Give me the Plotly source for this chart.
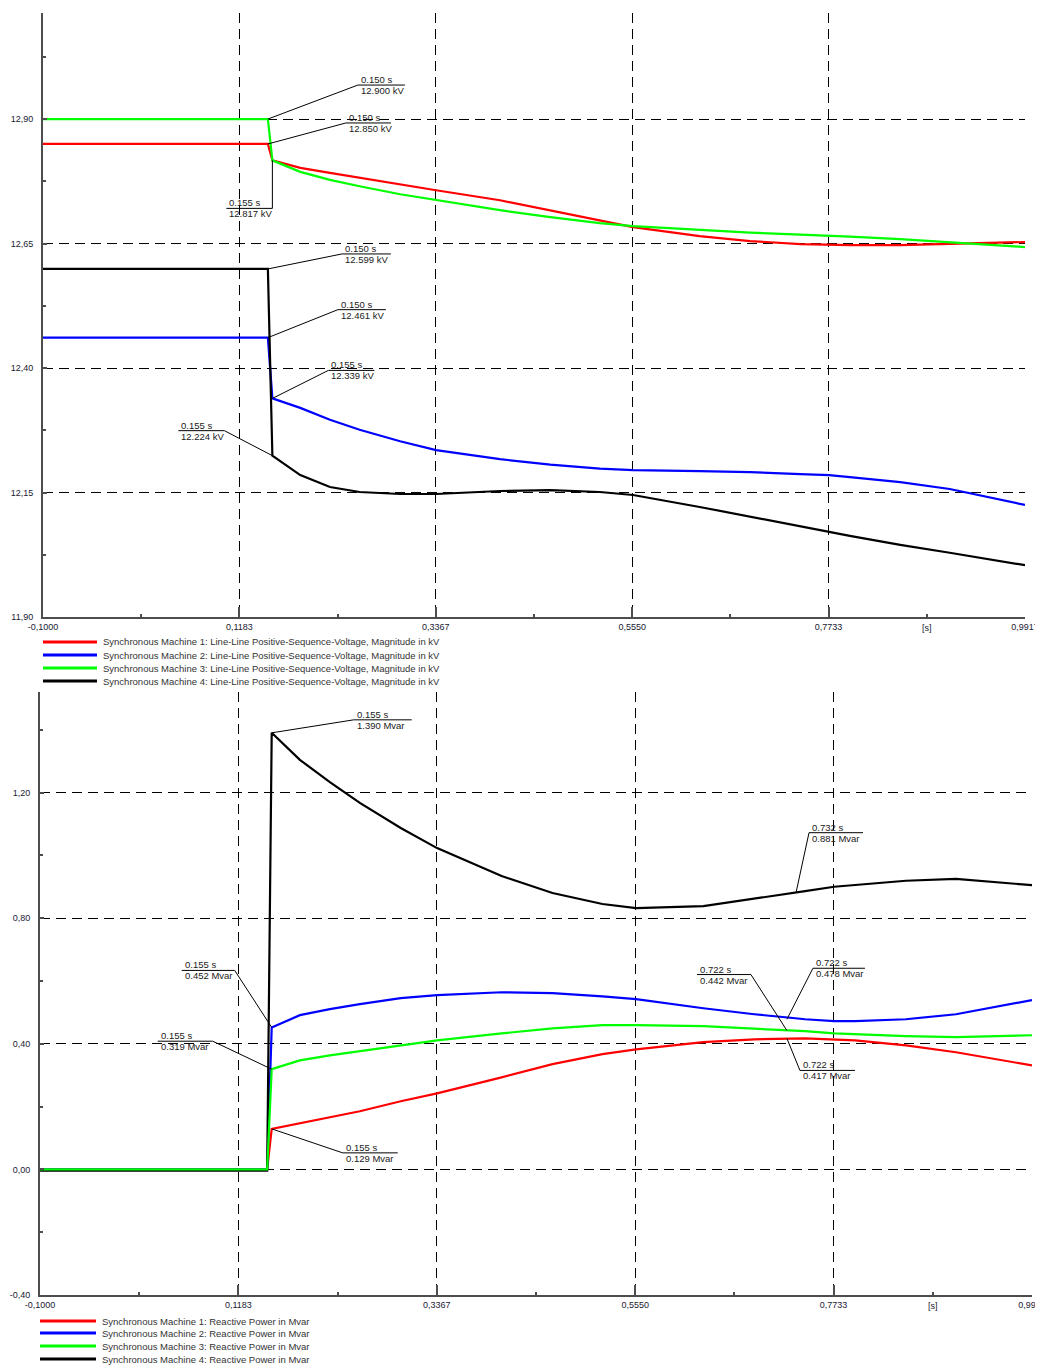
import plotly.graph_objects as go

# page size and the 8px page margin the browser puts round the figure
PAGE_W, PAGE_H = 1043, 1365
OFF = 8
W, H = PAGE_W - OFF, PAGE_H - OFF

# time base [s], shared by both plots
t = [-0.1, 0.150, 0.155, 0.186, 0.219, 0.252, 0.297, 0.337, 0.408, 0.464, 0.519,
     0.556, 0.630, 0.686, 0.742, 0.774, 0.797, 0.853, 0.908, 0.9917]

# Line-Line positive sequence voltage [kV]
u_sm1 = [12.850, 12.850, 12.817, 12.802, 12.792, 12.782, 12.769, 12.757, 12.737, 12.717, 12.697,
         12.683, 12.665, 12.655, 12.649, 12.647, 12.647, 12.647, 12.649, 12.653]
u_sm2 = [12.461, 12.461, 12.339, 12.320, 12.296, 12.276, 12.253, 12.235, 12.217, 12.206, 12.198,
         12.195, 12.193, 12.191, 12.187, 12.185, 12.181, 12.171, 12.157, 12.125]
u_sm3 = [12.900, 12.900, 12.817, 12.794, 12.778, 12.765, 12.749, 12.737, 12.717, 12.703, 12.691,
         12.685, 12.677, 12.672, 12.668, 12.666, 12.664, 12.659, 12.653, 12.643]
u_sm4 = [12.599, 12.599, 12.224, 12.185, 12.161, 12.151, 12.147, 12.147, 12.153, 12.155, 12.151,
         12.145, 12.121, 12.101, 12.081, 12.071, 12.063, 12.045, 12.029, 12.004]

# Reactive power [Mvar]
q_sm1 = [0.0, 0.0, 0.129, 0.147, 0.166, 0.185, 0.217, 0.242, 0.293, 0.335, 0.367,
         0.382, 0.405, 0.414, 0.417, 0.414, 0.411, 0.395, 0.373, 0.331]
q_sm2 = [0.0, 0.0, 0.452, 0.491, 0.510, 0.526, 0.545, 0.555, 0.564, 0.561, 0.551,
         0.542, 0.513, 0.494, 0.478, 0.472, 0.472, 0.478, 0.494, 0.539]
q_sm3 = [0.0, 0.0, 0.319, 0.347, 0.363, 0.376, 0.395, 0.411, 0.433, 0.449, 0.459,
         0.459, 0.456, 0.449, 0.440, 0.433, 0.430, 0.424, 0.421, 0.427]
q_sm4 = [-0.004, -0.004, 1.390, 1.304, 1.233, 1.167, 1.087, 1.023, 0.934, 0.880, 0.845,
         0.832, 0.838, 0.861, 0.886, 0.900, 0.906, 0.919, 0.925, 0.905]

colors = ['#ff0000', '#0000ff', '#00ff00', '#000000']

u_names = ['Synchronous Machine %d: Line-Line Positive-Sequence-Voltage, Magnitude in kV' % i for i in range(1, 5)]
q_names = ['Synchronous Machine %d: Reactive Power in Mvar' % i for i in range(1, 5)]

x_ticks = [-0.1, 0.1183, 0.3367, 0.5550, 0.7733, 0.9917]
x_ticktext = ['-0,1000', '0,1183', '0,3367', '0,5550', '0,7733', '0,9917']
x_minor = [0.00915, 0.2275, 0.44585, 0.66415, 0.8825]

u_ticks = [11.90, 12.15, 12.40, 12.65, 12.90]
u_ticktext = ['11,90', '12,15', '12,40', '12,65', '12,90']
u_minor = [12.025, 12.275, 12.525, 12.775, 13.025]

q_ticks = [-0.40, 0.00, 0.40, 0.80, 1.20]
q_ticktext = ['-0,40', '0,00', '0,40', '0,80', '1,20']
q_minor = [-0.20, 0.20, 0.60, 1.00, 1.40]

# markers: (plot, time, value, label, leader dx, leader dy (px, up), underline length (+ right / - left))
markers = [
    (1, 0.150, 12.900, ('0.150 s', '12.900 kV'), 90, 34, 47),
    (1, 0.150, 12.850, ('0.150 s', '12.850 kV'), 78, 21, 45),
    (1, 0.155, 12.817, ('0.155 s', '12.817 kV'), 0, -48, -46),
    (1, 0.150, 12.599, ('0.150 s', '12.599 kV'), 74, 15, 49),
    (1, 0.150, 12.461, ('0.150 s', '12.461 kV'), 70, 28, 48),
    (1, 0.155, 12.339, ('0.155 s', '12.339 kV'), 56, 28, 46),
    (1, 0.155, 12.224, ('0.155 s', '12.224 kV'), -48, 25, -46),
    (2, 0.155, 1.390, ('0.155 s', '1.390 Mvar'), 82, 13, 58),
    (2, 0.155, 0.452, ('0.155 s', '0.452 Mvar'), -37, 57, -53),
    (2, 0.155, 0.319, ('0.155 s', '0.319 Mvar'), -59, 28, -55),
    (2, 0.155, 0.129, ('0.155 s', '0.129 Mvar'), 71, -24, 55),
    (2, 0.732, 0.881, ('0.732 s', '0.881 Mvar'), 13, 60, 54),
    (2, 0.722, 0.478, ('0.722 s', '0.478 Mvar'), 26, 51, 52),
    (2, 0.722, 0.442, ('0.722 s', '0.442 Mvar'), -36, 56, -54),
    (2, 0.722, 0.417, ('0.722 s', '0.417 Mvar'), 13, -32, 55),
]

FONT = 'Liberation Sans, Arial, sans-serif'
AXIS_COLOR = '#4d4d4d'


def px(x, y):
    # page pixels -> paper coordinates
    return (x - OFF) / W, 1 - (y - OFF) / H


def dom_x(a, b):
    return [px(a, 0)[0], px(b, 0)[0]]


def dom_y(top, bottom):
    return [px(0, bottom)[1], px(0, top)[1]]


def x_axis(domain, anchor):
    return dict(
        domain=domain, anchor=anchor, range=[-0.1, 0.9917], automargin=False,
        tickmode='array', tickvals=x_ticks, ticktext=x_ticktext, ticklabeloverflow='allow',
        ticks='inside', ticklen=10, tickwidth=2, tickcolor=AXIS_COLOR,
        minor=dict(tickmode='array', tickvals=x_minor, ticks='inside', ticklen=3,
                   tickwidth=2, tickcolor=AXIS_COLOR, showgrid=False),
        showline=True, linecolor=AXIS_COLOR, linewidth=2,
        showgrid=True, gridcolor='black', gridwidth=1, griddash='10px,6px',
        zeroline=False, tickfont=dict(family=FONT, size=9, color='#1a1a33'),
    )


def y_axis(domain, anchor, rng, vals, text, minor):
    return dict(
        domain=domain, anchor=anchor, range=rng, automargin=False,
        tickmode='array', tickvals=vals, ticktext=text, ticklabelstandoff=6,
        ticks='inside', ticklen=4, tickwidth=2, tickcolor=AXIS_COLOR,
        minor=dict(tickmode='array', tickvals=minor, ticks='inside', ticklen=3,
                   tickwidth=2, tickcolor=AXIS_COLOR, showgrid=False),
        showline=True, linecolor=AXIS_COLOR, linewidth=2,
        showgrid=True, gridcolor='black', gridwidth=1, griddash='10px,6px',
        zeroline=False, tickfont=dict(family=FONT, size=9, color='#1a1a33'),
    )


fig = go.Figure()

for ys, name, c in zip([u_sm1, u_sm2, u_sm3, u_sm4], u_names, colors):
    fig.add_trace(go.Scatter(x=t, y=ys, name=name, mode='lines', xaxis='x', yaxis='y',
                             line=dict(color=c, width=2.2), showlegend=False))

for ys, name, c in zip([q_sm1, q_sm2, q_sm4, q_sm3], [q_names[0], q_names[1], q_names[3], q_names[2]],
                       [colors[0], colors[1], colors[3], colors[2]]):
    fig.add_trace(go.Scatter(x=t, y=ys, name=name, mode='lines', xaxis='x2', yaxis='y2',
                             line=dict(color=c, width=2.2), showlegend=False))

shapes = []
annotations = []

# value markers with leader lines
for plot, tm, val, label, dx, dy, ul in markers:
    xr = 'x' if plot == 1 else 'x2'
    yr = 'y' if plot == 1 else 'y2'
    common = dict(type='line', xref=xr, yref=yr, xsizemode='pixel', ysizemode='pixel',
                  xanchor=tm, yanchor=val, line=dict(color='black', width=1))
    shapes.append(dict(common, x0=0, y0=0, x1=dx, y1=dy))
    shapes.append(dict(common, x0=dx, y0=dy, x1=dx + ul, y1=dy))
    left = min(dx, dx + ul) + 1
    annotations.append(dict(x=tm, y=val, xref=xr, yref=yr, text=label[0], showarrow=False,
                            xanchor='left', yanchor='bottom', xshift=left, yshift=dy - 2,
                            font=dict(family=FONT, size=9.5, color='#1a1a1a')))
    annotations.append(dict(x=tm, y=val, xref=xr, yref=yr, text=label[1], showarrow=False,
                            xanchor='left', yanchor='top', xshift=left, yshift=dy + 2,
                            font=dict(family=FONT, size=9.5, color='#1a1a1a')))

# unit label on the time axes
for xr, yr in [('x', 'y domain'), ('x2', 'y2 domain')]:
    annotations.append(dict(x=x_minor[-1], y=0, xref=xr, yref=yr, text='[s]', showarrow=False,
                            xanchor='center', yanchor='top', yshift=-4,
                            font=dict(family=FONT, size=9, color='#1a1a33')))


# custom legends below each plot
def add_legend(names, x0, x1, xt, ys):
    for name, c, yy in zip(names, colors, ys):
        a0, b = px(x0, yy)
        a1, _ = px(x1, yy)
        shapes.append(dict(type='line', xref='paper', yref='paper', x0=a0, x1=a1, y0=b, y1=b,
                           line=dict(color=c, width=3)))
        tx, _ = px(xt, yy)
        annotations.append(dict(x=tx, y=b, xref='paper', yref='paper', text=name, showarrow=False,
                                xanchor='left', yanchor='middle',
                                font=dict(family=FONT, size=9.5, color='#333333')))


add_legend(u_names, 43, 97, 101, [642, 655, 668, 681])
add_legend(q_names, 40, 96, 100, [1321, 1333, 1346, 1359])

fig.update_layout(
    width=W, height=H, autosize=False,
    margin=dict(l=0, r=0, t=0, b=0, autoexpand=False),
    paper_bgcolor='white', plot_bgcolor='white',
    showlegend=False,
    xaxis=x_axis(dom_x(43, 1025), 'y'),
    yaxis=y_axis(dom_y(13, 617), 'x', [11.90, 13.113], u_ticks, u_ticktext, u_minor),
    xaxis2=x_axis(dom_x(40, 1032), 'y2'),
    yaxis2=y_axis(dom_y(692, 1295), 'x2', [-0.40, 1.52], q_ticks, q_ticktext, q_minor),
    shapes=shapes,
    annotations=annotations,
)

fig.write_html("out.html")
